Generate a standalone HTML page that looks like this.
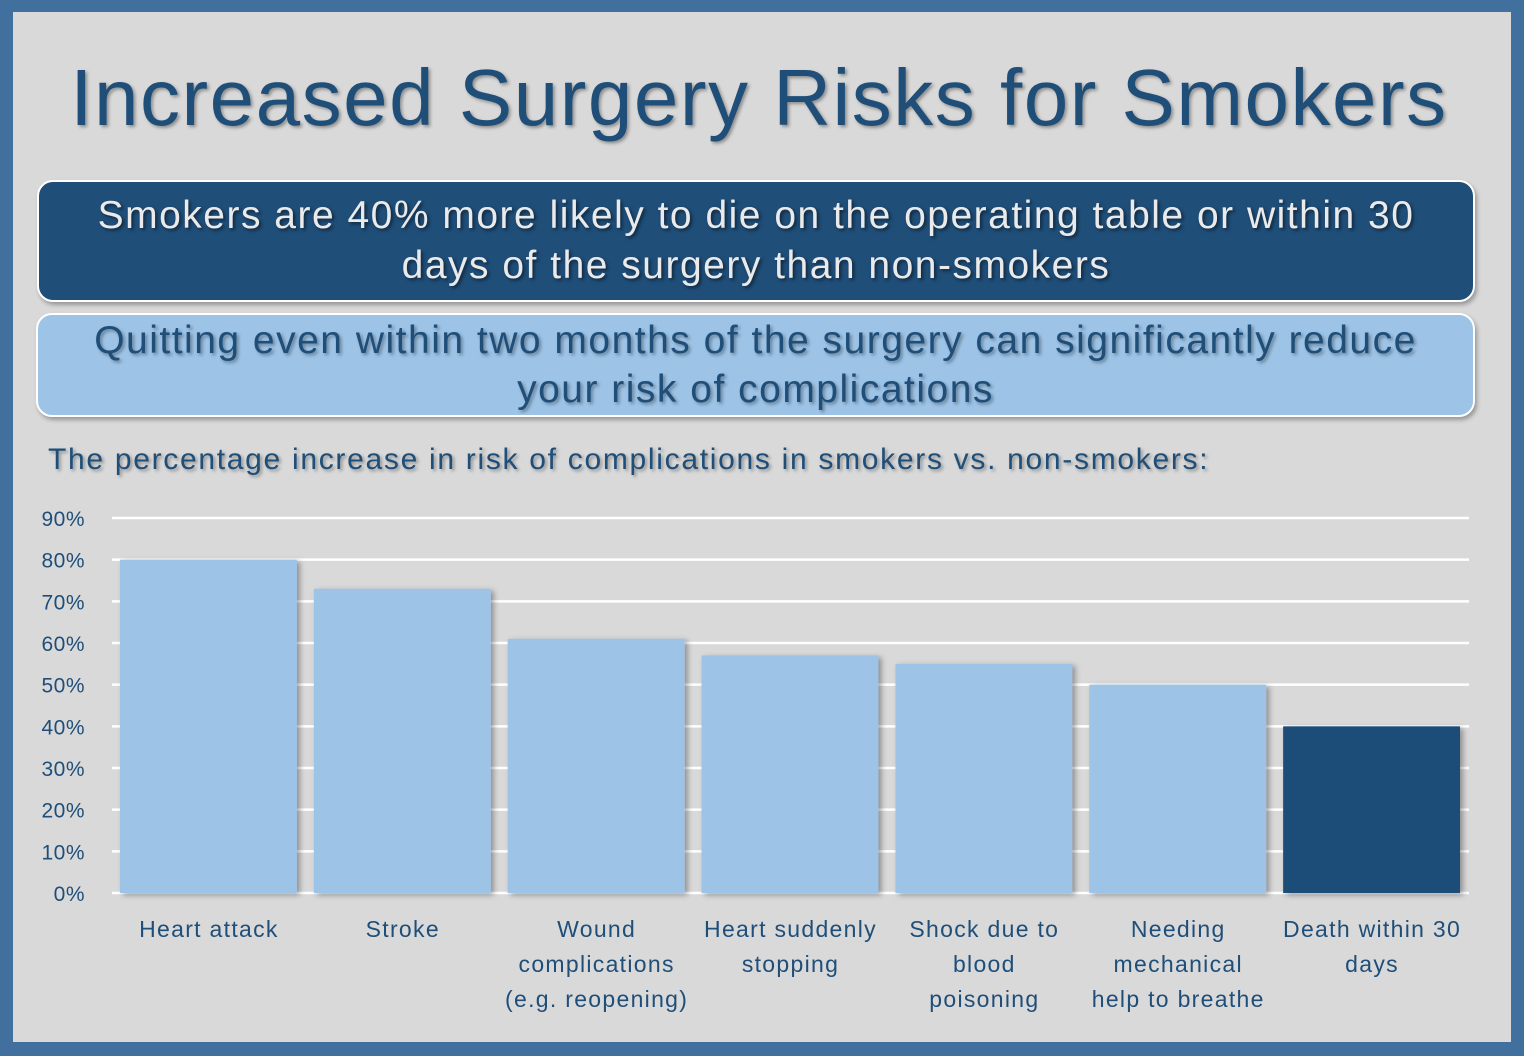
<!DOCTYPE html>
<html><head><meta charset="utf-8"><style>
body{margin:0;width:1531px;height:1056px;background:#fff;font-family:"Liberation Sans","DejaVu Sans",sans-serif;position:relative;overflow:hidden}
#frame{position:absolute;left:0;top:0;width:1524px;height:1056px;background:#41709f}
#inner{position:absolute;left:13px;top:12px;width:1498px;height:1030px;background:#d9d9d9}
.t{position:absolute;text-align:center;text-shadow:2px 2px 3px rgba(0,0,0,0.35)}
.box{position:absolute;border:2px solid #fff;border-radius:16px;box-sizing:border-box;display:flex;align-items:center;justify-content:center;text-align:center;box-shadow:2px 3px 4px rgba(0,0,0,0.3);white-space:nowrap}
</style></head><body>
<div id="frame"></div>
<div id="inner"></div>
<div class="t" style="left:0;width:1518px;top:52px;font-size:80px;color:#1f4e79;letter-spacing:1.5px">Increased Surgery Risks for Smokers</div>
<div class="box" style="left:37px;top:180px;width:1438px;height:122px;background:#1f4e79;color:#eaeaea;font-size:39px;letter-spacing:1.5px;line-height:50px;text-shadow:2px 2px 3px rgba(0,0,0,0.5)">Smokers are 40% more likely to die on the operating table or within 30<br>days of the surgery than non-smokers</div>
<div class="box" style="left:36px;top:313px;width:1439px;height:104px;background:#9dc3e6;color:#1f4e79;font-size:39px;letter-spacing:1.5px;line-height:49px;text-shadow:2px 2px 3px rgba(0,0,0,0.35)">Quitting even within two months of the surgery can significantly reduce<br>your risk of complications</div>
<div class="t" style="left:48px;top:443px;font-size:30px;letter-spacing:1.7px;color:#1f4e79;text-align:left;white-space:nowrap">The percentage increase in risk of complications in smokers vs. non-smokers:</div>
<svg id="chart" width="1531" height="1056" style="position:absolute;left:0;top:0"></svg>
<script>
const categories=[["Heart attack"],["Stroke"],["Wound","complications","(e.g. reopening)"],["Heart suddenly","stopping"],["Shock due to","blood","poisoning"],["Needing","mechanical","help to breathe"],["Death within 30","days"]];
const values=[80,73,61,57,55,50,40];
const highlight=[0,0,0,0,0,0,1];
const ticks=[0,10,20,30,40,50,60,70,80,90];
const svg=document.getElementById('chart');const NS='http://www.w3.org/2000/svg';
const x0=112,x1=1469,y0=893,yTop=518,maxV=90;
const y=v=>y0-(v/maxV)*(y0-yTop);
const band=(x1-x0)/categories.length;
function mk(t,a){const e=document.createElementNS(NS,t);for(const k in a)e.setAttribute(k,a[k]);svg.appendChild(e);return e;}
const defs=mk('defs',{});defs.innerHTML='<filter id="sh" x="-10%" y="-10%" width="130%" height="130%"><feDropShadow dx="3" dy="2" stdDeviation="3" flood-color="#000" flood-opacity="0.35"/></filter>';
ticks.forEach(t=>{
 const l=mk('line',{x1:x0,x2:x1,y1:y(t),y2:y(t),stroke:'#fff','stroke-width':2.5});
 
 
 const tx=mk('text',{x:85,y:y(t)+8,'text-anchor':'end','font-size':21,fill:'#1f4e79','letter-spacing':'0.5','font-family':'Liberation Sans, DejaVu Sans, sans-serif'});
 tx.textContent=t+'%';
 
 
});
values.forEach((v,i)=>{
 const bx=x0+i*band+8,bw=band-17;
 const r=mk('rect',{x:bx,y:y(v),width:bw,height:y0-y(v),fill:highlight[i]?'#1f4e79':'#9dc3e6',filter:'url(#sh)'});
 
 
 categories[i].forEach((s,j)=>{
  const tx=mk('text',{x:x0+(i+0.5)*band,y:937+j*35,'text-anchor':'middle','font-size':23,fill:'#1f4e79','letter-spacing':'1.3','font-family':'Liberation Sans, DejaVu Sans, sans-serif'});
  tx.textContent=s;
  
  
 });
});
</script>
</body></html>
